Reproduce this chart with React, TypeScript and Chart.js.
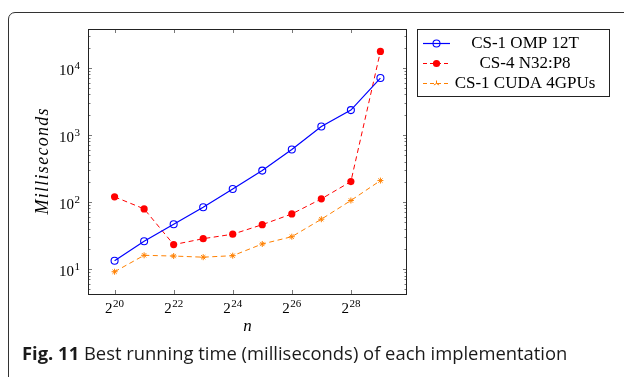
import React, { useEffect, useRef } from 'react';
import { Chart, registerables } from 'chart.js';

Chart.register(...registerables);

// ---- data ----
const exponents = [20, 21, 22, 23, 24, 25, 26, 27, 28, 29];
const ompValues = [13.3, 25.9, 46.4, 83.4, 156, 293, 604, 1330, 2335, 7020];
const n32Values = [119, 78.7, 23.1, 28.3, 33, 45.8, 66.2, 111, 201, 17500];
const cudaValues = [9.1, 16.0, 15.6, 15.0, 15.8, 23.6, 30.3, 55.2, 105, 208];
const seriesLabels = ['CS-1 OMP 12T', 'CS-4 N32:P8', 'CS-1 CUDA 4GPUs'];
const xTickExponents = [20, 22, 24, 26, 28];
const yDecades = [1, 2, 3, 4];
const xTitle = 'n';
const yTitle = 'Milliseconds';
const captionBold = 'Fig. 11';
const captionRest = ' Best running time (milliseconds) of each implementation';

const W = 624;
const H = 377;
const SERIF = '"Liberation Serif", "Times New Roman", serif';
const BLUE = '#0000ff';
const RED = '#ff0000';
const ORANGE = '#ff8000';

function drawSup(ctx: CanvasRenderingContext2D, base: string, sup: string, x: number, baseline: number, align: 'center' | 'right') {
  ctx.font = `15px ${SERIF}`;
  const wb = ctx.measureText(base).width;
  ctx.font = `11px ${SERIF}`;
  const ws = ctx.measureText(sup).width;
  const gap = 0.5;
  const total = wb + gap + ws;
  const x0 = align === 'center' ? x - total / 2 : x - total;
  ctx.textAlign = 'left';
  ctx.textBaseline = 'alphabetic';
  ctx.fillStyle = '#000';
  ctx.font = `15px ${SERIF}`;
  ctx.fillText(base, x0, baseline);
  ctx.font = `11px ${SERIF}`;
  ctx.fillText(sup, x0 + wb + gap, baseline - 6);
}

function drawMarker(ctx: CanvasRenderingContext2D, kind: number, x: number, y: number) {
  ctx.save();
  if (kind === 0) {
    ctx.strokeStyle = BLUE;
    ctx.lineWidth = 1.1;
    ctx.beginPath();
    ctx.arc(x, y, 3.5, 0, Math.PI * 2);
    ctx.stroke();
  } else if (kind === 1) {
    ctx.fillStyle = RED;
    ctx.beginPath();
    ctx.arc(x, y, 3.6, 0, Math.PI * 2);
    ctx.fill();
  } else {
    ctx.strokeStyle = ORANGE;
    ctx.lineWidth = 1;
    const r = 3;
    ctx.beginPath();
    for (let i = 0; i < 3; i++) {
      const a = -Math.PI / 2 + (i * 2 * Math.PI) / 3;
      ctx.moveTo(x, y);
      ctx.lineTo(x + r * Math.cos(a), y + r * Math.sin(a));
    }
    ctx.stroke();
  }
  ctx.restore();
}

const decoPlugin = {
  id: 'deco',
  afterDraw(chart: any) {
    const ctx: CanvasRenderingContext2D = chart.ctx;
    const { left, right, top, bottom } = chart.chartArea;
    const xs = chart.scales.x;
    const ys = chart.scales.y;
    ctx.save();

    // tick marks (inside)
    ctx.strokeStyle = '#777';
    ctx.lineWidth = 1;
    ctx.beginPath();
    for (const e of xTickExponents) {
      const px = Math.round(xs.getPixelForValue(e)) + 0.5;
      ctx.moveTo(px, bottom);
      ctx.lineTo(px, bottom - 4);
      ctx.moveTo(px, top);
      ctx.lineTo(px, top + 4);
    }
    for (let d = 0; d <= 4; d++) {
      for (let m = 1; m <= 9; m++) {
        const v = m * Math.pow(10, d);
        if (v < ys.min || v > ys.max) continue;
        const py = Math.round(ys.getPixelForValue(v)) + 0.5;
        const len = m === 1 ? 4 : 2.5;
        ctx.moveTo(left, py);
        ctx.lineTo(left + len, py);
        ctx.moveTo(right, py);
        ctx.lineTo(right - len, py);
      }
    }
    ctx.stroke();

    // axis box
    ctx.strokeStyle = '#222';
    ctx.lineWidth = 1;
    ctx.strokeRect(Math.round(left) + 0.5, Math.round(top) + 0.5, Math.round(right - left) - 1, Math.round(bottom - top));

    // tick labels
    for (const e of xTickExponents) {
      drawSup(ctx, '2', String(e), xs.getPixelForValue(e), 313, 'center');
    }
    for (const d of yDecades) {
      const py = ys.getPixelForValue(Math.pow(10, d));
      drawSup(ctx, '10', String(d), 80, py + 7, 'right');
    }

    // axis titles
    ctx.fillStyle = '#000';
    ctx.font = `italic 17px ${SERIF}`;
    ctx.textAlign = 'center';
    ctx.textBaseline = 'alphabetic';
    ctx.fillText(xTitle, (left + right) / 2, 331);

    ctx.save();
    ctx.translate(48, (top + bottom) / 2);
    ctx.rotate(-Math.PI / 2);
    ctx.font = `italic 18px ${SERIF}`;
    const natural = ctx.measureText(yTitle).width;
    const target = 106;
    const spacing = Math.max(0, (target - natural) / (yTitle.length - 1));
    (ctx as any).letterSpacing = `${spacing.toFixed(2)}px`;
    const w2 = ctx.measureText(yTitle).width;
    ctx.textAlign = 'left';
    ctx.fillText(yTitle, -w2 / 2 + spacing / 2, 0);
    (ctx as any).letterSpacing = '0px';
    ctx.restore();

    // legend
    const lx = 417.5, ly = 29.5, lw = 192, lh = 67;
    ctx.fillStyle = '#fff';
    ctx.fillRect(lx, ly, lw, lh);
    ctx.strokeStyle = '#222';
    ctx.lineWidth = 1;
    ctx.strokeRect(lx, ly, lw, lh);
    const rows = [43, 63, 83];
    const colors = [BLUE, RED, ORANGE];
    const dashes: number[][] = [[], [4, 3], [4, 3]];
    seriesLabels.forEach((label, i) => {
      const ry = rows[i];
      ctx.save();
      ctx.strokeStyle = colors[i];
      ctx.lineWidth = i === 0 ? 1.2 : 1;
      ctx.setLineDash(dashes[i]);
      ctx.beginPath();
      ctx.moveTo(423, ry + 0.5);
      ctx.lineTo(450, ry + 0.5);
      ctx.stroke();
      ctx.restore();
      drawMarker(ctx, i, 436.5, ry + 0.5);
      ctx.fillStyle = '#000';
      ctx.font = `17px ${SERIF}`;
      ctx.textAlign = 'center';
      ctx.textBaseline = 'middle';
      ctx.fillText(label, 525, ry + 1);
    });

    ctx.restore();
  },
};

export default function App() {
  const ref = useRef<HTMLCanvasElement | null>(null);

  useEffect(() => {
    document.body.style.overflow = 'hidden';
    const canvas = ref.current;
    if (!canvas) return;
    const mk = (vals: number[]) => exponents.map((e, i) => ({ x: e, y: vals[i] }));
    const chart = new Chart(canvas, {
      type: 'line',
      data: {
        datasets: [
          {
            label: seriesLabels[0],
            data: mk(ompValues),
            borderColor: BLUE,
            borderWidth: 1.2,
            pointStyle: 'circle',
            pointRadius: 3.5,
            pointBorderWidth: 1.1,
            pointBorderColor: BLUE,
            pointBackgroundColor: 'rgba(0,0,0,0)',
            tension: 0,
            fill: false,
          },
          {
            label: seriesLabels[1],
            data: mk(n32Values),
            borderColor: RED,
            borderWidth: 1,
            borderDash: [5, 3.5],
            pointStyle: 'circle',
            pointRadius: 3.6,
            pointBorderWidth: 0,
            pointBackgroundColor: RED,
            pointBorderColor: RED,
            tension: 0,
            fill: false,
          },
          {
            label: seriesLabels[2],
            data: mk(cudaValues),
            borderColor: ORANGE,
            borderWidth: 1,
            borderDash: [5, 3.5],
            pointStyle: 'star',
            pointRadius: 3,
            pointBorderWidth: 1,
            pointBorderColor: ORANGE,
            pointBackgroundColor: ORANGE,
            tension: 0,
            fill: false,
          },
        ],
      },
      options: {
        animation: false,
        responsive: false,
        devicePixelRatio: 1,
        layout: { padding: { left: 88, top: 29, right: W - 407, bottom: H - 294 } },
        plugins: { legend: { display: false }, tooltip: { enabled: false } },
        scales: {
          x: { type: 'linear', min: 19.1, max: 29.9, display: false },
          y: { type: 'logarithmic', min: 4.24, max: 37800, display: false },
        },
      },
      plugins: [decoPlugin],
    });
    return () => chart.destroy();
  }, []);

  return (
    <div style={{ position: 'fixed', left: 0, top: 0, width: W, height: H, overflow: 'hidden', background: '#fff' }}>
      <div
        style={{
          position: 'absolute',
          left: 8,
          top: 12,
          width: 700,
          height: 500,
          border: '1px solid #333',
          borderTopLeftRadius: 7,
          boxSizing: 'border-box',
        }}
      />
      <canvas ref={ref} width={W} height={H} style={{ position: 'absolute', left: 0, top: 0, width: W, height: H }} />
      <div
        style={{
          position: 'absolute',
          left: 22,
          top: 343,
          fontFamily: '"Open Sans", sans-serif',
          fontSize: 18.4,
          lineHeight: '20px',
          whiteSpace: 'nowrap',
          color: '#1a1a1a',
        }}
      >
        <b>{captionBold}</b>
        {captionRest}
      </div>
    </div>
  );
}
